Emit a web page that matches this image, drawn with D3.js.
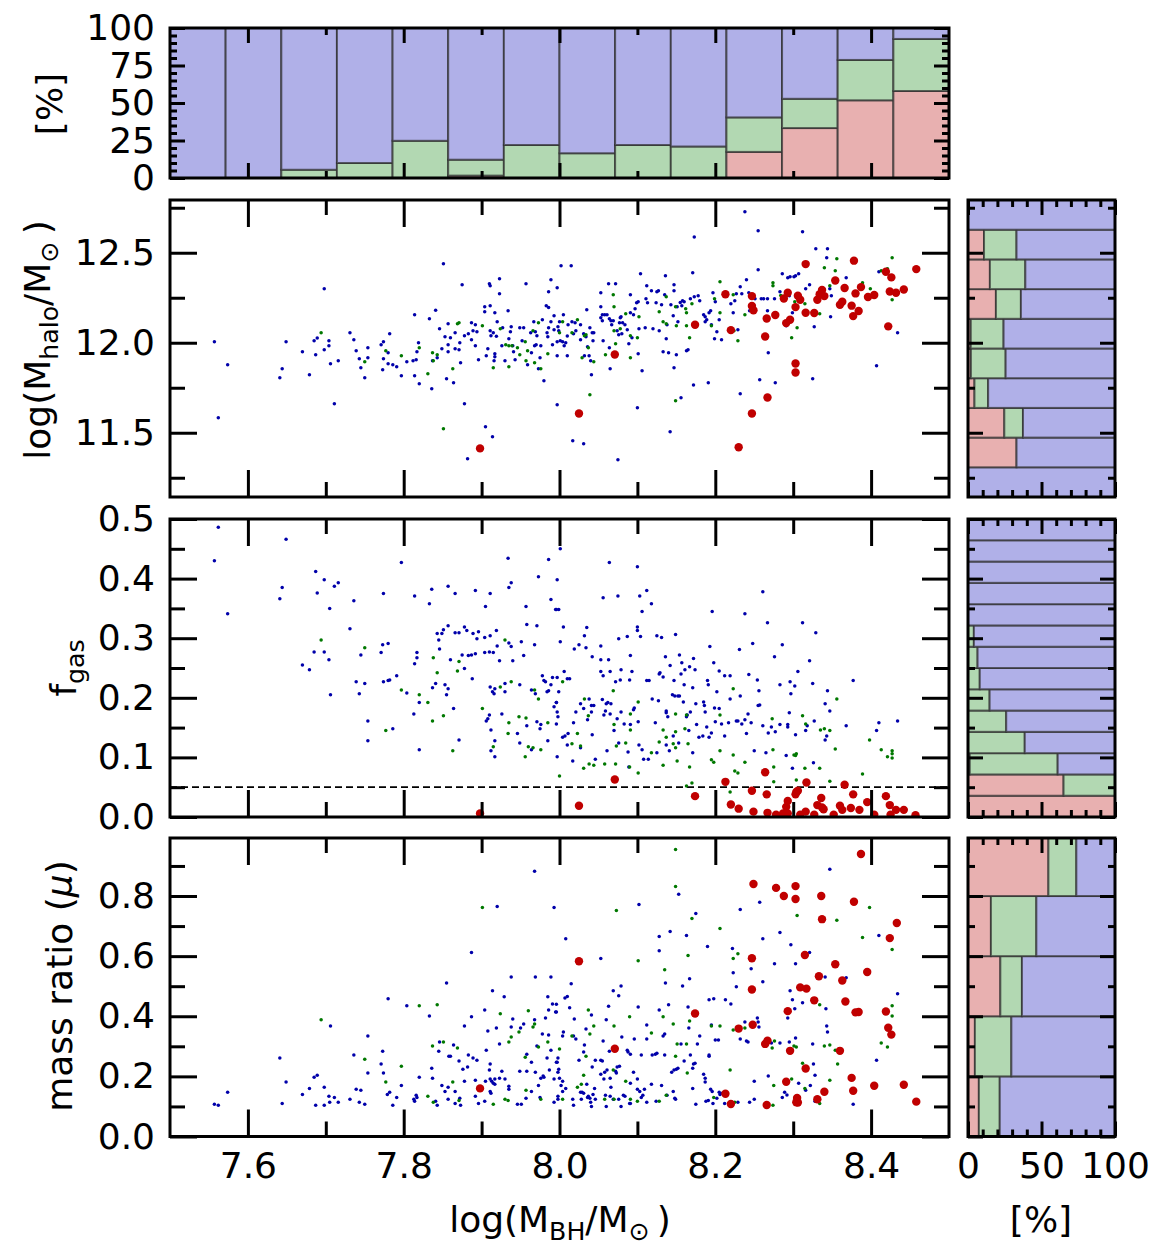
<!DOCTYPE html>
<html><head><meta charset="utf-8">
<script src="https://cdn.jsdelivr.net/npm/d3@7"></script>
<style>body{margin:0;background:#fff}</style>
</head><body>
<svg id="c" width="1165" height="1259" xmlns="http://www.w3.org/2000/svg"></svg>
<script>
// ---------------- DATA ----------------
const xMajor = [7.6, 7.8, 8.0, 8.2, 8.4];
const xMinor = [7.7, 7.9, 8.1, 8.3];
const haloMajor = [11.5, 12.0, 12.5];
const haloMinor = [11.25, 11.75, 12.25, 12.75];
const fgasMajor = [0.0, 0.1, 0.2, 0.3, 0.4, 0.5];
const fgasMinor = [0.05, 0.15, 0.25, 0.35, 0.45];
const muMajor = [0.0, 0.2, 0.4, 0.6, 0.8];
const muMinor = [0.1, 0.3, 0.5, 0.7, 0.9];
const pctMajor = [0, 25, 50, 75, 100];
const pctMinor = [5,10,15,20,30,35,40,45,55,60,65,70,80,85,90,95];
const sideMajor = [0, 50, 100];
const sideMinor = [10,20,30,40,60,70,80,90];
const fgasCut = 0.05;

// top histogram (fractions in %, per bin of log M_BH)
const topBinEdges = [7.5, 7.5714, 7.6429, 7.7143, 7.7857, 7.8571, 7.9286, 8.0, 8.0714, 8.1429, 8.2143, 8.2857, 8.3571, 8.4286, 8.5];
const topRed   = [0, 0, 0, 0, 0, 1.6, 0, 0, 0, 0, 17.4, 33.3, 51.8, 58];
const topGreen = [0, 0, 5.5, 10, 24.8, 10.6, 22, 16.5, 22, 21, 23, 19.5, 26.9, 34.7];
const topBlue  = [100, 100, 94.5, 90, 75.2, 87.8, 78, 83.5, 78, 79, 59.6, 47.2, 21.3, 7.3];

// side histograms (bottom bin first)
const haloBinEdges = [11.143, 11.308, 11.473, 11.638, 11.803, 11.968, 12.133, 12.298, 12.463, 12.628, 12.793];
const haloRedP   = [0, 33, 24.7, 4.4, 2, 1.9, 19, 14.9, 10.9, 0];
const haloGreenP = [0, 0, 12.7, 9.3, 23.6, 22.3, 17, 24.1, 22.1, 0];
const haloBlueP  = [100, 67, 62.6, 86.3, 74.4, 75.8, 64, 61, 67, 100];

const fgasBinEdges = [0, 0.0357, 0.0714, 0.1071, 0.1429, 0.1786, 0.2143, 0.25, 0.2857, 0.3214, 0.3571, 0.3929, 0.4286, 0.4643, 0.5];
const fgasRedP   = [100, 65, 1.2, 0, 0, 0, 0, 0, 0, 0, 0, 0, 0, 0];
const fgasGreenP = [0, 35, 59.8, 38.6, 26, 14.7, 8, 6.5, 4, 0, 0, 0, 0, 0];
const fgasBlueP  = [0, 0, 39, 61.4, 74, 85.3, 92, 93.5, 96, 100, 100, 100, 100, 100];

const muBinEdges = [0, 0.2, 0.4, 0.6, 0.8, 1.0];
const muRedP   = [7.4, 4.7, 22, 15.6, 54.7];
const muGreenP = [14.2, 24.8, 14.7, 30.9, 19];
const muBlueP  = [78.4, 70.5, 63.3, 53.5, 26.3];

// scatter: [log M_BH, value]
const haloBlue = [[7.557,12.006],[7.574,11.878],[7.562,11.583],[7.641,11.806],[7.644,11.856],[7.649,12.006],[7.670,11.95],[7.679,11.822],[7.685,12.011],[7.687,11.933],[7.689,12.026],[7.698,12.3],[7.698,11.961],[7.704,12.011],[7.704,11.983],[7.706,11.883],[7.711,11.661],[7.716,11.9],[7.731,12.056],[7.736,12.017],[7.739,11.956],[7.743,11.911],[7.745,11.861],[7.750,11.806],[7.754,11.972],[7.754,11.917],[7.771,11.989],[7.774,12.006],[7.773,11.85],[7.774,11.911],[7.780,11.944],[7.780,11.883],[7.782,12.05],[7.786,11.878],[7.791,11.867],[7.797,11.817],[7.804,11.894],[7.812,11.9],[7.814,12.156],[7.814,11.817],[7.816,11.906],[7.817,11.95],[7.819,12.0],[7.820,11.772],[7.833,12.133],[7.836,11.744],[7.837,11.9],[7.841,12.181],[7.843,11.917],[7.846,12.078],[7.849,11.967],[7.851,12.439],[7.853,12.033],[7.855,11.8],[7.857,12.106],[7.857,11.989],[7.857,11.95],[7.860,12.028],[7.864,11.778],[7.866,12.056],[7.866,11.967],[7.871,11.961],[7.872,12.0],[7.873,11.889],[7.875,12.322],[7.878,11.661],[7.878,12.039],[7.883,12.05],[7.887,12.111],[7.887,12.017],[7.889,12.067],[7.892,12.1],[7.892,11.983],[7.894,12.061],[7.896,11.906],[7.904,12.2],[7.904,12.172],[7.905,11.533],[7.906,11.928],[7.908,11.967],[7.910,12.328],[7.911,12.317],[7.911,12.067],[7.911,12.206],[7.912,12.039],[7.914,11.478],[7.915,12.056],[7.916,11.9],[7.917,11.922],[7.917,12.167],[7.917,11.939],[7.919,12.036],[7.920,12.117],[7.923,12.272],[7.923,12.356],[7.926,11.983],[7.927,12.083],[7.930,11.9],[7.934,12.178],[7.935,12.022],[7.937,12.061],[7.938,12.089],[7.940,11.983],[7.941,11.95],[7.943,11.906],[7.949,12.083],[7.952,12.011],[7.954,12.083],[7.957,12.328],[7.959,11.878],[7.963,12.056],[7.964,11.944],[7.967,12.117],[7.968,11.983],[7.969,12.061],[7.970,11.989],[7.971,12.039],[7.973,11.856],[7.975,11.917],[7.976,11.983],[7.978,12.128],[7.980,11.789],[7.983,12.206],[7.984,12.056],[7.985,12.033],[7.986,12.283],[7.986,12.196],[7.986,12.083],[7.989,12.35],[7.989,12.117],[7.991,11.989],[7.993,12.15],[7.993,12.072],[7.882,11.356],
[8.002,12.428],[8.015,12.428],[7.997,12.306],[7.997,12.006],[7.998,12.089],[8.000,12.117],[7.999,12.067],[8.001,12.011],[8.005,12.156],[8.004,12.006],[8.006,11.983],[8.008,12.0],[7.997,11.928],[8.010,11.928],[8.011,12.1],[8.016,12.117],[8.018,12.05],[8.020,12.111],[8.021,12.067],[8.027,12.1],[8.027,12.017],[8.031,12.05],[8.032,11.928],[8.034,12.033],[8.035,12.183],[8.036,11.978],[8.038,11.928],[8.039,12.083],[8.040,11.9],[8.041,11.822],[8.042,12.056],[8.044,12.056],[8.043,12.011],[8.053,12.2],[8.053,12.139],[8.053,12.278],[8.055,12.156],[8.055,12.122],[8.056,12.011],[8.058,12.156],[8.061,12.156],[8.063,12.328],[8.064,12.133],[8.064,11.972],[8.065,11.856],[8.066,12.122],[8.067,12.1],[8.069,12.122],[8.072,12.328],[8.074,12.067],[8.076,12.044],[8.077,12.111],[8.078,12.139],[8.079,12.144],[8.080,12.05],[8.081,12.111],[8.084,12.1],[8.087,12.072],[8.089,11.994],[8.091,12.267],[8.091,12.167],[8.093,12.028],[8.095,12.156],[8.097,12.189],[8.099,12.222],[8.101,12.228],[8.101,11.939],[8.102,12.078],[8.104,12.383],[8.106,11.844],[8.110,12.083],[8.111,12.244],[8.112,12.317],[8.113,12.222],[8.118,12.289],[8.120,12.078],[8.124,12.222],[8.125,12.283],[8.127,12.289],[8.128,12.067],[8.131,12.211],[8.133,11.95],[8.135,12.267],[8.136,12.372],[8.137,12.022],[8.138,12.1],[8.140,11.944],[8.143,12.211],[8.146,12.15],[8.147,12.289],[8.147,12.322],[8.147,11.861],[8.150,11.933],[8.151,12.2],[8.152,12.117],[8.155,12.224],[8.157,12.206],[8.158,12.233],[8.160,12.228],[8.163,11.956],[8.165,11.961],[8.168,12.244],[8.171,12.389],[8.172,11.765],[8.173,12.587],[8.173,12.256],[8.178,12.261],[8.180,12.233],[8.185,12.156],[8.187,12.144],[8.187,12.117],[8.189,12.128],[8.191,11.778],[8.192,12.167],[8.194,12.178],[8.195,12.1],[8.197,12.278],[8.199,12.022],[8.200,12.228],[8.202,12.061],[8.205,12.128],[8.208,12.017],[8.220,12.217],[8.223,12.167],[8.225,12.233],[8.227,12.272],[8.229,12.072],[8.232,12.311],[8.232,11.717],[8.234,12.272],[8.238,12.728],[8.240,12.35],[8.243,12.278],[8.244,12.178],[8.248,12.178],[8.251,12.244],[8.255,12.622],[8.255,12.406],[8.257,11.794],[8.259,12.244],[8.262,12.244],[8.267,12.244],[8.267,12.178],[8.268,11.944],[8.276,12.244],[8.277,11.778],[8.283,12.283],[8.286,12.383],[8.289,12.106],[8.291,12.094],[8.293,12.361],[8.295,12.261],[8.296,12.367],[8.299,12.167],[8.301,12.367],[8.303,12.372],[8.307,12.383],[8.312,12.617],[8.316,12.3],[8.321,12.322],[8.325,11.8],[8.327,12.089],[8.329,12.522],[8.331,12.239],[8.343,12.472],[8.344,12.522],[8.347,12.3],[8.348,12.144],[8.349,12.261],[8.368,12.361],[8.407,11.872],[8.410,12.394],[8.434,12.056],[8.335,12.267],[7.997,11.656],[8.017,11.456],[8.031,11.439],[8.075,11.35],[8.100,11.639],[8.142,11.506],[8.156,11.694],[8.010,12.037]];
const haloGreen = [[7.694,12.056],[7.750,11.894],[7.777,11.956],[7.797,11.928],[7.820,11.972],[7.831,11.828],[7.837,11.944],[7.838,11.9],[7.843,11.933],[7.851,11.522],[7.863,11.856],[7.869,12.106],[7.871,12.111],[7.901,12.094],[7.915,11.861],[7.924,12.078],[7.931,11.989],[7.935,11.983],[7.935,11.867],[7.939,11.983],[7.946,11.972],[7.949,11.933],[7.956,12.006],[7.957,11.9],[7.959,11.956],[7.966,12.067],[7.968,11.889],[7.973,12.111],[7.976,11.856],[7.985,11.939],
[8.000,12.056],[8.004,12.117],[8.023,12.128],[8.016,12.056],[8.032,12.039],[8.029,11.917],[8.034,12.044],[8.037,11.972],[8.039,11.711],[8.044,11.894],[8.059,11.933],[8.069,12.267],[8.070,12.2],[8.070,12.067],[8.072,11.994],[8.078,12.078],[8.085,12.161],[8.091,12.039],[8.091,11.917],[8.100,12.028],[8.102,12.144],[8.128,12.172],[8.133,12.117],[8.137,12.256],[8.137,12.106],[8.149,12.2],[8.149,11.678],[8.150,12.094],[8.162,12.189],[8.163,12.167],[8.163,12.094],[8.167,12.028],[8.170,12.217],[8.195,12.094],[8.199,12.244],[8.206,12.339],[8.206,12.167],[8.223,12.267],[8.224,12.067],[8.229,12.011],[8.238,12.156],[8.274,12.333],[8.274,12.317],[8.284,12.263],[8.298,12.028],[8.302,12.228],[8.305,12.083],[8.315,12.217],[8.334,12.161],[8.340,12.417],[8.347,12.317],[8.354,12.4],[8.356,12.467],[8.389,12.333],[8.399,12.3],[8.413,12.4],[8.421,12.411],[8.427,12.472],[8.427,12.239]];
const haloRed = [[7.898,11.413],[8.025,11.607],[8.071,11.935],[8.174,12.1],[8.213,12.269],[8.220,12.07],[8.230,11.419],[8.247,12.259],[8.247,12.204],[8.249,12.18],[8.247,11.607],[8.266,12.135],[8.264,12.035],[8.267,11.696],[8.277,12.154],[8.288,12.246],[8.291,12.109],[8.293,12.278],[8.296,12.128],[8.303,12.198],[8.303,11.885],[8.303,11.835],[8.306,12.261],[8.309,12.239],[8.316,12.437],[8.316,12.167],[8.327,12.165],[8.331,12.239],[8.334,12.269],[8.337,12.293],[8.340,12.259],[8.354,12.346],[8.360,12.211],[8.363,12.228],[8.366,12.304],[8.375,12.206],[8.377,12.148],[8.378,12.456],[8.380,12.274],[8.384,12.176],[8.387,12.309],[8.396,12.254],[8.404,12.265],[8.419,12.394],[8.422,12.091],[8.426,12.363],[8.424,12.285],[8.432,12.278],[8.442,12.296],[8.458,12.409]];

const fgasBlue = [[7.562,0.486],[7.557,0.430],[7.649,0.466],[7.574,0.341],[7.644,0.385],[7.641,0.366],[7.687,0.412],[7.689,0.376],[7.698,0.398],[7.705,0.350],[7.711,0.387],[7.716,0.393],[7.736,0.363],[7.731,0.316],[7.670,0.255],[7.679,0.247],[7.685,0.277],[7.698,0.277],[7.704,0.264],[7.706,0.205],[7.739,0.227],[7.743,0.207],[7.745,0.272],[7.750,0.224],[7.754,0.161],[7.754,0.128],[7.771,0.276],[7.773,0.289],[7.774,0.375],[7.774,0.227],[7.780,0.291],[7.780,0.229],[7.782,0.230],[7.786,0.148],[7.791,0.237],[7.797,0.427],[7.804,0.208],[7.813,0.173],[7.814,0.371],[7.814,0.257],[7.817,0.276],[7.817,0.267],[7.820,0.192],[7.820,0.113],[7.833,0.358],[7.836,0.382],[7.837,0.217],[7.841,0.224],[7.843,0.308],[7.845,0.297],[7.846,0.282],[7.849,0.308],[7.851,0.314],[7.853,0.222],[7.855,0.205],[7.857,0.215],[7.857,0.387],[7.857,0.321],[7.860,0.264],[7.864,0.182],[7.866,0.375],[7.866,0.309],[7.871,0.309],[7.871,0.129],[7.875,0.272],[7.878,0.319],[7.878,0.249],[7.881,0.313],[7.883,0.271],[7.887,0.272],[7.888,0.232],[7.889,0.308],[7.892,0.380],[7.892,0.274],[7.894,0.299],[7.896,0.311],[7.904,0.301],[7.904,0.276],[7.905,0.353],[7.906,0.161],[7.908,0.165],[7.910,0.277],[7.910,0.171],[7.911,0.375],[7.911,0.304],[7.911,0.218],[7.912,0.146],[7.912,0.111],[7.914,0.210],[7.915,0.276],[7.916,0.207],[7.917,0.101],[7.917,0.215],[7.917,0.128],[7.919,0.313],[7.920,0.287],[7.923,0.262],[7.926,0.173],[7.930,0.210],[7.930,0.224],[7.934,0.434],[7.935,0.385],[7.935,0.292],[7.938,0.393],[7.938,0.286],[7.940,0.262],[7.946,0.140],[7.949,0.222],[7.949,0.124],[7.951,0.294],[7.954,0.271],[7.957,0.353],[7.958,0.153],[7.958,0.323],[7.964,0.113],[7.964,0.213],[7.968,0.289],[7.969,0.207],[7.971,0.160],[7.971,0.321],[7.973,0.403],[7.975,0.148],[7.976,0.155],[7.978,0.237],[7.980,0.229],[7.982,0.227],[7.984,0.210],[7.985,0.128],[7.986,0.432],[7.986,0.212],[7.989,0.365],[7.989,0.222],[7.991,0.234],[7.993,0.185],[7.995,0.348],[7.996,0.192],
[8.001,0.450],[7.997,0.398],[7.996,0.348],[7.999,0.348],[8.005,0.319],[8.001,0.294],[8.006,0.244],[7.997,0.234],[8.010,0.232],[8.013,0.232],[7.999,0.210],[7.996,0.192],[7.997,0.176],[7.998,0.168],[7.996,0.156],[8.004,0.134],[8.007,0.136],[8.011,0.140],[8.010,0.121],[7.997,0.101],[8.017,0.094],[8.018,0.158],[8.019,0.282],[8.021,0.176],[8.025,0.289],[8.027,0.190],[8.027,0.116],[8.031,0.182],[8.032,0.304],[8.034,0.284],[8.035,0.318],[8.036,0.163],[8.038,0.198],[8.041,0.187],[8.041,0.176],[8.042,0.269],[8.042,0.138],[8.044,0.187],[8.046,0.097],[8.053,0.287],[8.053,0.264],[8.053,0.244],[8.055,0.197],[8.056,0.237],[8.056,0.368],[8.057,0.171],[8.059,0.178],[8.060,0.190],[8.061,0.111],[8.062,0.192],[8.063,0.264],[8.064,0.427],[8.065,0.244],[8.065,0.173],[8.066,0.190],[8.070,0.145],[8.072,0.227],[8.074,0.165],[8.075,0.371],[8.076,0.124],[8.076,0.299],[8.078,0.230],[8.079,0.247],[8.079,0.176],[8.083,0.156],[8.087,0.303],[8.088,0.109],[8.089,0.084],[8.090,0.230],[8.091,0.155],[8.091,0.271],[8.093,0.244],[8.095,0.180],[8.096,0.183],[8.100,0.420],[8.100,0.319],[8.100,0.313],[8.101,0.160],[8.102,0.121],[8.103,0.371],[8.104,0.303],[8.106,0.345],[8.106,0.113],[8.108,0.097],[8.112,0.380],[8.112,0.229],[8.114,0.097],[8.115,0.229],[8.118,0.358],[8.119,0.198],[8.123,0.158],[8.125,0.304],[8.125,0.108],[8.127,0.195],[8.128,0.240],[8.129,0.242],[8.131,0.301],[8.133,0.235],[8.136,0.269],[8.137,0.178],[8.137,0.175],[8.137,0.121],[8.139,0.168],[8.141,0.111],[8.142,0.254],[8.145,0.205],[8.146,0.136],[8.147,0.229],[8.148,0.203],[8.149,0.306],[8.152,0.203],[8.153,0.124],[8.154,0.272],[8.154,0.203],[8.156,0.240],[8.157,0.259],[8.159,0.193],[8.160,0.222],[8.161,0.247],[8.163,0.168],[8.164,0.171],[8.166,0.145],[8.167,0.252],[8.168,0.176],[8.171,0.217],[8.171,0.108],[8.172,0.266],[8.174,0.247],[8.175,0.190],[8.176,0.155],[8.179,0.134],[8.184,0.136],[8.185,0.193],[8.186,0.187],[8.187,0.176],[8.189,0.151],[8.190,0.229],[8.191,0.222],[8.192,0.134],[8.193,0.286],[8.195,0.141],[8.196,0.345],[8.198,0.259],[8.199,0.183],[8.200,0.160],[8.202,0.210],[8.205,0.245],[8.205,0.182],[8.208,0.156],[8.212,0.237],[8.212,0.136],[8.217,0.158],[8.219,0.237],[8.219,0.198],[8.227,0.161],[8.229,0.161],[8.231,0.281],[8.232,0.203],[8.234,0.156],[8.238,0.341],[8.238,0.163],[8.240,0.140],[8.242,0.173],[8.243,0.239],[8.246,0.158],[8.248,0.291],[8.250,0.111],[8.254,0.230],[8.255,0.187],[8.256,0.212],[8.257,0.188],[8.261,0.378],[8.261,0.153],[8.265,0.108],[8.267,0.326],[8.268,0.141],[8.272,0.151],[8.276,0.269],[8.277,0.143],[8.283,0.222],[8.283,0.155],[8.286,0.289],[8.291,0.103],[8.293,0.155],[8.293,0.151],[8.295,0.175],[8.296,0.227],[8.297,0.207],[8.299,0.082],[8.302,0.220],[8.303,0.138],[8.306,0.244],[8.312,0.326],[8.316,0.145],[8.318,0.153],[8.321,0.262],[8.325,0.224],[8.326,0.091],[8.327,0.161],[8.329,0.309],[8.341,0.190],[8.341,0.129],[8.343,0.136],[8.344,0.212],[8.347,0.178],[8.368,0.153],[8.377,0.229],[8.407,0.145],[8.410,0.158],[8.434,0.161]];
const fgasGreen = [[7.694,0.297],[7.750,0.284],[7.777,0.145],[7.797,0.213],[7.820,0.205],[7.831,0.192],[7.837,0.161],[7.838,0.267],[7.843,0.242],[7.851,0.170],[7.863,0.111],[7.869,0.245],[7.871,0.261],[7.901,0.182],[7.915,0.118],[7.924,0.218],[7.930,0.297],[7.934,0.140],[7.935,0.158],[7.938,0.227],[7.948,0.168],[7.956,0.101],[7.957,0.166],[7.960,0.118],[7.966,0.116],[7.968,0.213],[7.973,0.198],[7.976,0.113],[7.985,0.158],
[8.000,0.069],[8.004,0.227],[8.016,0.123],[8.023,0.140],[8.027,0.119],[8.031,0.082],[8.032,0.198],[8.037,0.170],[8.038,0.089],[8.044,0.087],[8.058,0.089],[8.069,0.212],[8.070,0.155],[8.072,0.089],[8.073,0.119],[8.085,0.124],[8.090,0.084],[8.091,0.146],[8.091,0.173],[8.101,0.193],[8.101,0.074],[8.118,0.108],[8.128,0.126],[8.133,0.087],[8.133,0.146],[8.137,0.134],[8.146,0.123],[8.149,0.143],[8.149,0.173],[8.149,0.116],[8.151,0.094],[8.161,0.148],[8.163,0.171],[8.165,0.123],[8.167,0.084],[8.170,0.057],[8.163,0.052],[8.195,0.096],[8.198,0.092],[8.206,0.111],[8.206,0.171],[8.219,0.042],[8.223,0.215],[8.223,0.104],[8.225,0.077],[8.229,0.074],[8.238,0.092],[8.273,0.165],[8.274,0.113],[8.275,0.084],[8.275,0.059],[8.301,0.104],[8.303,0.103],[8.304,0.106],[8.304,0.062],[8.312,0.170],[8.315,0.082],[8.316,0.156],[8.334,0.082],[8.335,0.146],[8.340,0.148],[8.347,0.145],[8.347,0.060],[8.354,0.114],[8.356,0.198],[8.389,0.072],[8.398,0.129],[8.413,0.113],[8.421,0.101],[8.427,0.111],[8.427,0.099],[8.427,0.106]];
const fgasRed = [[7.898,0.006],[8.025,0.019],[8.071,0.063],[8.174,0.035],[8.213,0.059],[8.220,0.021],[8.230,0.014],[8.247,0.044],[8.249,0.009],[8.264,0.075],[8.266,0.038],[8.267,0.007],[8.278,0.004],[8.287,0.006],[8.291,0.017],[8.293,0.027],[8.293,0.006],[8.303,0.038],[8.304,0.042],[8.306,0.044],[8.309,0.004],[8.316,0.009],[8.317,0.058],[8.327,0.004],[8.331,0.020],[8.336,0.032],[8.337,0.016],[8.339,0.013],[8.352,0.004],[8.360,0.019],[8.363,0.012],[8.366,0.054],[8.374,0.015],[8.377,0.038],[8.385,0.012],[8.395,0.025],[8.404,0.004],[8.419,0.035],[8.424,0.020],[8.432,0.012],[8.442,0.012],[8.425,0.004],[8.457,0.003]];

const muBlue = [[7.557,0.107],[7.562,0.104],[7.574,0.147],[7.641,0.261],[7.644,0.110],[7.649,0.181],[7.670,0.140],[7.679,0.160],[7.685,0.197],[7.687,0.104],[7.689,0.204],[7.698,0.164],[7.698,0.104],[7.704,0.134],[7.705,0.114],[7.706,0.368],[7.711,0.130],[7.716,0.114],[7.731,0.124],[7.736,0.271],[7.739,0.157],[7.743,0.114],[7.745,0.154],[7.750,0.107],[7.754,0.334],[7.754,0.211],[7.771,0.241],[7.773,0.284],[7.774,0.211],[7.779,0.140],[7.780,0.458],[7.782,0.147],[7.786,0.104],[7.791,0.130],[7.797,0.170],[7.804,0.435],[7.813,0.124],[7.814,0.117],[7.816,0.137],[7.817,0.130],[7.820,0.197],[7.833,0.401],[7.836,0.227],[7.837,0.194],[7.841,0.117],[7.843,0.104],[7.845,0.284],[7.846,0.314],[7.849,0.170],[7.853,0.150],[7.855,0.511],[7.857,0.164],[7.857,0.124],[7.858,0.267],[7.860,0.267],[7.864,0.304],[7.866,0.150],[7.866,0.110],[7.871,0.251],[7.872,0.127],[7.873,0.104],[7.876,0.224],[7.878,0.184],[7.878,0.368],[7.882,0.231],[7.883,0.271],[7.887,0.398],[7.887,0.612],[7.889,0.261],[7.892,0.134],[7.892,0.187],[7.894,0.254],[7.896,0.110],[7.904,0.421],[7.904,0.117],[7.905,0.184],[7.906,0.287],[7.908,0.351],[7.910,0.221],[7.911,0.241],[7.911,0.191],[7.911,0.150],[7.912,0.144],[7.913,0.184],[7.914,0.485],[7.915,0.177],[7.917,0.191],[7.917,0.174],[7.919,0.361],[7.920,0.765],[7.923,0.308],[7.923,0.194],[7.926,0.217],[7.929,0.465],[7.930,0.191],[7.935,0.167],[7.935,0.157],[7.938,0.531],[7.938,0.364],[7.940,0.391],[7.946,0.107],[7.949,0.217],[7.950,0.361],[7.951,0.107],[7.954,0.374],[7.957,0.127],[7.958,0.217],[7.958,0.274],[7.964,0.247],[7.964,0.150],[7.968,0.882],[7.968,0.388],[7.969,0.214],[7.969,0.531],[7.971,0.301],[7.973,0.170],[7.975,0.130],[7.976,0.194],[7.978,0.341],[7.979,0.201],[7.980,0.197],[7.982,0.394],[7.984,0.261],[7.985,0.465],[7.986,0.421],[7.986,0.338],[7.987,0.221],[7.989,0.531],[7.989,0.287],[7.991,0.441],[7.993,0.762],[7.993,0.191],[7.993,0.114],[7.995,0.414],[7.996,0.247],
[7.996,0.440],[7.996,0.414],[8.008,0.658],[8.010,0.466],[8.007,0.461],[8.013,0.428],[8.015,0.508],[8.005,0.348],[8.004,0.334],[7.998,0.261],[7.997,0.247],[7.999,0.224],[7.998,0.214],[8.000,0.194],[8.004,0.184],[8.002,0.170],[8.004,0.150],[8.008,0.160],[7.998,0.134],[7.998,0.124],[8.018,0.334],[8.019,0.391],[8.021,0.324],[8.017,0.124],[8.018,0.104],[8.025,0.254],[8.027,0.147],[8.028,0.124],[8.029,0.147],[8.031,0.144],[8.032,0.304],[8.031,0.281],[8.034,0.358],[8.035,0.174],[8.036,0.130],[8.037,0.134],[8.039,0.127],[8.040,0.114],[8.041,0.100],[8.041,0.404],[8.042,0.231],[8.043,0.140],[8.045,0.160],[8.046,0.254],[8.046,0.124],[8.053,0.207],[8.053,0.592],[8.053,0.254],[8.055,0.251],[8.056,0.318],[8.057,0.191],[8.058,0.214],[8.059,0.137],[8.060,0.388],[8.060,0.100],[8.061,0.221],[8.063,0.433],[8.064,0.284],[8.065,0.194],[8.065,0.134],[8.066,0.164],[8.069,0.485],[8.069,0.124],[8.072,0.217],[8.073,0.211],[8.074,0.231],[8.076,0.468],[8.076,0.124],[8.077,0.234],[8.079,0.501],[8.079,0.100],[8.080,0.331],[8.082,0.137],[8.084,0.134],[8.087,0.287],[8.088,0.281],[8.090,0.110],[8.091,0.177],[8.091,0.110],[8.091,0.274],[8.095,0.214],[8.096,0.324],[8.100,0.191],[8.100,0.157],[8.101,0.431],[8.102,0.772],[8.103,0.150],[8.105,0.271],[8.105,0.130],[8.107,0.137],[8.109,0.157],[8.112,0.324],[8.112,0.371],[8.112,0.114],[8.118,0.174],[8.119,0.271],[8.123,0.274],[8.124,0.117],[8.125,0.277],[8.128,0.618],[8.128,0.665],[8.128,0.421],[8.131,0.170],[8.133,0.334],[8.135,0.341],[8.136,0.511],[8.135,0.271],[8.138,0.137],[8.140,0.438],[8.142,0.682],[8.144,0.214],[8.146,0.150],[8.147,0.221],[8.148,0.127],[8.149,0.124],[8.150,0.224],[8.152,0.227],[8.153,0.806],[8.156,0.308],[8.158,0.501],[8.160,0.251],[8.163,0.669],[8.165,0.431],[8.166,0.361],[8.167,0.525],[8.168,0.271],[8.171,0.227],[8.171,0.160],[8.172,0.241],[8.174,0.244],[8.175,0.742],[8.175,0.107],[8.177,0.308],[8.180,0.334],[8.185,0.207],[8.187,0.181],[8.187,0.194],[8.188,0.117],[8.190,0.632],[8.191,0.120],[8.192,0.267],[8.192,0.271],[8.194,0.157],[8.192,0.455],[8.195,0.371],[8.196,0.150],[8.197,0.110],[8.198,0.458],[8.200,0.321],[8.202,0.127],[8.204,0.321],[8.205,0.147],[8.206,0.140],[8.209,0.144],[8.212,0.110],[8.213,0.455],[8.220,0.441],[8.222,0.625],[8.223,0.545],[8.227,0.498],[8.229,0.114],[8.232,0.755],[8.232,0.324],[8.238,0.381],[8.240,0.318],[8.242,0.314],[8.244,0.114],[8.246,0.558],[8.250,0.184],[8.250,0.124],[8.254,0.394],[8.255,0.381],[8.256,0.364],[8.257,0.779],[8.261,0.658],[8.261,0.515],[8.265,0.321],[8.268,0.201],[8.272,0.311],[8.276,0.575],[8.283,0.679],[8.283,0.311],[8.286,0.130],[8.289,0.147],[8.292,0.138],[8.293,0.394],[8.295,0.314],[8.296,0.485],[8.297,0.638],[8.299,0.455],[8.302,0.425],[8.303,0.575],[8.303,0.328],[8.307,0.177],[8.312,0.445],[8.316,0.154],[8.321,0.612],[8.322,0.170],[8.325,0.308],[8.326,0.241],[8.328,0.204],[8.328,0.117],[8.341,0.531],[8.342,0.425],[8.343,0.368],[8.344,0.348],[8.347,0.889],[8.368,0.528],[8.377,0.107],[8.407,0.254],[8.410,0.669],[8.434,0.475]];
const muGreen = [[7.694,0.388],[7.750,0.257],[7.777,0.181],[7.797,0.234],[7.820,0.435],[7.831,0.134],[7.837,0.301],[7.838,0.114],[7.843,0.438],[7.851,0.314],[7.863,0.181],[7.869,0.294],[7.871,0.120],[7.901,0.762],[7.915,0.107],[7.924,0.408],[7.930,0.124],[7.934,0.120],[7.935,0.314],[7.938,0.331],[7.948,0.348],[7.956,0.264],[7.957,0.154],[7.960,0.418],[7.966,0.364],[7.968,0.374],[7.973,0.298],[7.976,0.124],[7.985,0.314],
[8.000,0.291],[8.004,0.124],[8.016,0.334],[8.023,0.164],[8.028,0.174],[8.031,0.204],[8.034,0.267],[8.037,0.421],[8.039,0.341],[8.044,0.368],[8.058,0.124],[8.069,0.221],[8.070,0.368],[8.070,0.124],[8.073,0.752],[8.085,0.184],[8.090,0.398],[8.091,0.124],[8.100,0.117],[8.101,0.585],[8.118,0.344],[8.128,0.117],[8.133,0.398],[8.135,0.555],[8.137,0.137],[8.146,0.374],[8.149,0.955],[8.149,0.832],[8.149,0.267],[8.151,0.308],[8.163,0.308],[8.164,0.211],[8.165,0.602],[8.167,0.384],[8.170,0.725],[8.195,0.368],[8.198,0.130],[8.206,0.692],[8.206,0.368],[8.219,0.221],[8.223,0.592],[8.223,0.354],[8.225,0.114],[8.229,0.608],[8.238,0.361],[8.273,0.294],[8.274,0.104],[8.275,0.170],[8.276,0.318],[8.298,0.191],[8.301,0.301],[8.304,0.298],[8.305,0.735],[8.312,0.244],[8.315,0.160],[8.334,0.110],[8.334,0.438],[8.340,0.301],[8.347,0.304],[8.347,0.187],[8.354,0.287],[8.356,0.719],[8.357,0.241],[8.389,0.662],[8.398,0.762],[8.413,0.311],[8.421,0.298],[8.427,0.622],[8.427,0.435],[8.427,0.401]];
const muRed = [[7.898,0.160],[8.025,0.583],[8.071,0.292],[8.174,0.409],[8.213,0.142],[8.220,0.108],[8.230,0.359],[8.247,0.593],[8.247,0.489],[8.248,0.372],[8.249,0.840],[8.264,0.308],[8.266,0.105],[8.267,0.319],[8.278,0.827],[8.288,0.8],[8.291,0.182],[8.293,0.417],[8.296,0.285],[8.303,0.833],[8.303,0.790],[8.304,0.114],[8.305,0.128],[8.306,0.113],[8.309,0.496],[8.315,0.604],[8.316,0.226],[8.317,0.492],[8.327,0.453],[8.331,0.124],[8.333,0.533],[8.336,0.8],[8.337,0.723],[8.340,0.149],[8.354,0.573],[8.360,0.285],[8.363,0.519],[8.367,0.449],[8.375,0.195],[8.377,0.152],[8.378,0.781],[8.380,0.413],[8.384,0.414],[8.387,0.940],[8.395,0.547],[8.404,0.169],[8.419,0.416],[8.422,0.362],[8.424,0.660],[8.426,0.339],[8.433,0.710],[8.442,0.172],[8.458,0.116]];

// ---------------- STYLE ----------------
const FONT = '"DejaVu Sans", sans-serif';
const FS = 36;
const C = {
  blueDot: '#0000aa', greenDot: '#007800', redDot: '#c00000',
  blueFill: '#b0b0e8', greenFill: '#b2d8b2', redFill: '#e8b0b0',
  edge: 'rgba(45,45,45,0.7)'
};

const svg = d3.select('#c');
const L = 170, R = 949, SL = 968, SR = 1115;
const rows = {top:[28,178], halo:[200,497], fgas:[519,817], mu:[838,1136.5]};

const x = d3.scaleLinear().domain([7.5, 8.5]).range([L, R]);
const yTop = d3.scaleLinear().domain([0, 100]).range([rows.top[1], rows.top[0]]);
const yHalo = d3.scaleLinear().domain([11.143, 12.793]).range([rows.halo[1], rows.halo[0]]);
const yFgas = d3.scaleLinear().domain([0, 0.5]).range([rows.fgas[1], rows.fgas[0]]);
const yMu = d3.scaleLinear().domain([0, 0.993]).range([rows.mu[1], rows.mu[0]]);
const xSide = d3.scaleLinear().domain([0, 100]).range([SL, SR]);

function addAxis(orient, scale, vals, len, tx, ty, fmt, pad) {
  const fn = {left: d3.axisLeft, right: d3.axisRight, top: d3.axisTop, bottom: d3.axisBottom}[orient];
  const a = fn(scale).tickValues(vals).tickSize(-len).tickPadding(pad || 0)
    .tickFormat(fmt || (() => ''));
  const g = svg.append('g').attr('transform', `translate(${tx},${ty})`).call(a);
  g.select('.domain').remove();
  g.attr('font-size', null).attr('font-family', null);
  g.selectAll('.tick line').attr('stroke', '#000').attr('stroke-width', 3);
  g.selectAll('.tick text').attr('font-size', FS).attr('font-family', FONT).attr('fill', '#000');
  return g;
}

function frame(x0, x1, y0, y1) {
  svg.append('rect').attr('x', x0).attr('y', y0).attr('width', x1 - x0).attr('height', y1 - y0)
    .attr('fill', 'none').attr('stroke', '#000').attr('stroke-width', 3);
}

function clip(id, x0, x1, y0, y1) {
  svg.append('clipPath').attr('id', id).append('rect')
    .attr('x', x0).attr('y', y0).attr('width', x1 - x0).attr('height', y1 - y0);
  return `url(#${id})`;
}

// ---------- top histogram ----------
{
  const g = svg.append('g').attr('clip-path', clip('cTop', L, R, rows.top[0], rows.top[1]));
  const bins = topRed.map((r, i) => ({x0: topBinEdges[i], x1: topBinEdges[i + 1], r, gr: topGreen[i], b: topBlue[i]}));
  bins.forEach(d => {
    const segs = [[0, d.r, C.redFill], [d.r, d.r + d.gr, C.greenFill], [d.r + d.gr, d.r + d.gr + d.b, C.blueFill]];
    segs.forEach(s => {
      if (s[1] - s[0] <= 0) return;
      g.append('rect').attr('x', x(d.x0)).attr('width', x(d.x1) - x(d.x0))
        .attr('y', yTop(s[1])).attr('height', yTop(s[0]) - yTop(s[1]))
        .attr('fill', s[2]).attr('stroke', C.edge).attr('stroke-width', 2);
    });
  });
  addAxis('bottom', x, xMajor, 15, 0, rows.top[1]);
  addAxis('bottom', x, xMinor, 7, 0, rows.top[1]);
  addAxis('top', x, xMajor, 15, 0, rows.top[0]);
  addAxis('top', x, xMinor, 7, 0, rows.top[0]);
  addAxis('left', yTop, pctMajor, 15, L, 0, d3.format('d'), 15);
  addAxis('left', yTop, pctMinor, 7, L, 0);
  addAxis('right', yTop, pctMajor, 15, R, 0);
  addAxis('right', yTop, pctMinor, 7, R, 0);
  frame(L, R, rows.top[0], rows.top[1]);
}

// ---------- scatter panels ----------
function scatterPanel(id, yS, row, blue, green, red, major, minor, fmt, xLabels) {
  const g = svg.append('g').attr('clip-path', clip(id, L, R, row[0], row[1]));
  if (id === 'cFgas') {
    g.append('line').attr('x1', L).attr('x2', R).attr('y1', yS(fgasCut)).attr('y2', yS(fgasCut))
      .attr('stroke', '#000').attr('stroke-width', 1.8).attr('stroke-dasharray', '7,4');
  }
  const draw = (data, col, r) => g.append('g').selectAll('circle').data(data).join('circle')
    .attr('cx', d => x(d[0])).attr('cy', d => yS(d[1])).attr('r', r).attr('fill', col);
  draw(blue, C.blueDot, 1.75);
  draw(green, C.greenDot, 1.75);
  draw(red, C.redDot, 4.2);
  addAxis('bottom', x, xMajor, 27, 0, row[1], xLabels ? d3.format('.1f') : null, 16);
  addAxis('bottom', x, xMinor, 15, 0, row[1]);
  addAxis('top', x, xMajor, 27, 0, row[0]);
  addAxis('top', x, xMinor, 15, 0, row[0]);
  addAxis('left', yS, major, 27, L, 0, fmt, 15);
  addAxis('left', yS, minor, 15, L, 0);
  addAxis('right', yS, major, 27, R, 0);
  addAxis('right', yS, minor, 15, R, 0);
  frame(L, R, row[0], row[1]);
}
scatterPanel('cHalo', yHalo, rows.halo, haloBlue, haloGreen, haloRed, haloMajor, haloMinor, d3.format('.1f'), false);
scatterPanel('cFgas', yFgas, rows.fgas, fgasBlue, fgasGreen, fgasRed, fgasMajor, fgasMinor, d3.format('.1f'), false);
scatterPanel('cMu', yMu, rows.mu, muBlue, muGreen, muRed, muMajor, muMinor, d3.format('.1f'), true);

// ---------- side histograms ----------
function sidePanel(id, yS, row, edges, redP, greenP, blueP, major, minor, xLabels) {
  const g = svg.append('g').attr('clip-path', clip(id, SL, SR, row[0], row[1]));
  redP.forEach((r, i) => {
    const gr = greenP[i], b = blueP[i];
    const segs = [[0, r, C.redFill], [r, r + gr, C.greenFill], [r + gr, r + gr + b, C.blueFill]];
    segs.forEach(s => {
      if (s[1] - s[0] <= 0) return;
      g.append('rect').attr('x', xSide(s[0])).attr('width', xSide(s[1]) - xSide(s[0]))
        .attr('y', yS(edges[i + 1])).attr('height', yS(edges[i]) - yS(edges[i + 1]))
        .attr('fill', s[2]).attr('stroke', C.edge).attr('stroke-width', 2);
    });
  });
  addAxis('bottom', xSide, sideMajor, 15, 0, row[1], xLabels ? d3.format('d') : null, 16);
  addAxis('bottom', xSide, sideMinor, 7, 0, row[1]);
  addAxis('top', xSide, sideMajor, 15, 0, row[0]);
  addAxis('top', xSide, sideMinor, 7, 0, row[0]);
  addAxis('left', yS, major, 15, SL, 0);
  addAxis('left', yS, minor, 7, SL, 0);
  addAxis('right', yS, major, 15, SR, 0);
  addAxis('right', yS, minor, 7, SR, 0);
  frame(SL, SR, row[0], row[1]);
}
sidePanel('sHalo', yHalo, rows.halo, haloBinEdges, haloRedP, haloGreenP, haloBlueP, haloMajor, haloMinor, false);
sidePanel('sFgas', yFgas, rows.fgas, fgasBinEdges, fgasRedP, fgasGreenP, fgasBlueP, fgasMajor, fgasMinor, false);
sidePanel('sMu', yMu, rows.mu, muBinEdges, muRedP, muGreenP, muBlueP, muMajor, muMinor, true);

// ---------- labels ----------
function label(px, py, rot, parts) {
  const t = svg.append('text').attr('font-family', FONT).attr('font-size', FS).attr('fill', '#000')
    .attr('text-anchor', 'middle')
    .attr('transform', `translate(${px},${py})` + (rot ? ` rotate(${rot})` : ''));
  let shifted = false;
  parts.forEach(p => {
    const [txt, sub, ital] = p;
    const ts = t.append('tspan').text(txt);
    if (sub && !shifted) { ts.attr('dy', 8).attr('font-size', FS * 0.7); shifted = true; }
    else if (!sub && shifted) { ts.attr('dy', -8); shifted = false; }
    else if (sub) ts.attr('font-size', FS * 0.7);
    if (ital) ts.attr('font-style', 'italic');
  });
}
label(62, 104, -90, [['[%]']]);
label(50, 340, -90, [['log(M'], ['halo', true], ['/M'], ['\u2299', true], ['\u2009)']]);
label(76, 668, -90, [['f'], ['gas', true]]);
label(72, 986, -90, [['mass ratio ('], ['\u03bc', false, true], [')']]);
label(560, 1232, 0, [['log(M'], ['BH', true], ['/M'], ['\u2299', true], ['\u2009)']]);
label(1041, 1232, 0, [['[%]']]);
</script>
</body></html>
